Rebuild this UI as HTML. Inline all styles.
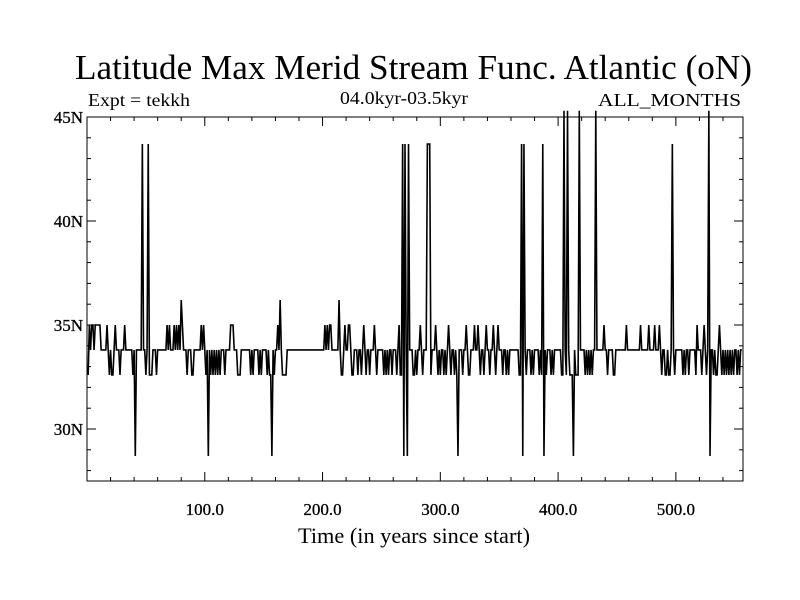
<!DOCTYPE html>
<html><head><meta charset="utf-8"><style>body{margin:0;background:#fff}svg{display:block}text{font-family:"Liberation Serif",serif;fill:#000}</style></head>
<body>
<svg id="chart" width="800" height="600" xmlns="http://www.w3.org/2000/svg">
<text x="75" y="79" font-size="35" textLength="677" lengthAdjust="spacingAndGlyphs">Latitude Max Merid Stream Func. Atlantic (oN)</text>
<text x="88" y="106" font-size="18" textLength="102" lengthAdjust="spacingAndGlyphs">Expt = tekkh</text>
<text x="340" y="104" font-size="18" textLength="128" lengthAdjust="spacingAndGlyphs">04.0kyr-03.5kyr</text>
<text x="598" y="106" font-size="18" textLength="143" lengthAdjust="spacingAndGlyphs">ALL_MONTHS</text>
<rect x="87" y="117" width="656" height="364" fill="none" stroke="#000" stroke-width="1"/>
<g id="ticks"></g>
<path id="line" fill="none" stroke="#000" stroke-width="1.6"/>
<text x="298" y="543" font-size="22" textLength="232" lengthAdjust="spacingAndGlyphs">Time (in years since start)</text>
</svg>
<script>
const levels = {a:28.7,b:32.6,c:33.8,d:35.0,e:36.2,f:43.7,g:47.0};
const codes = "bdcddcdddd"+"dcccccdcbc"+"bbcdcccbcc"+"cdccccccbc"+"acccccfccb"+"cfbbbcccbc"+"cccccccdcd"+"cccdcdcdce"+"dcccbcccbb"+"ccccccdcdc"+
"bcacbcbcbc"+"bcbcccbccc"+"cdddcccbbb"+"ccccccccbc"+"bccccbcbcc"+"ccbcbbacbc"+"cdcecbbbbc"+"cccccccccc"+"cccccccccc"+"cccccccccc"+
"cdcdcddccc"+"cccecbbcdc"+"cddcbbcccb"+"ccbcdcbccb"+"cccdcbcccc"+"cbcbcbccbc"+"ccbcdbbfaf"+"cafcccbbcb"+"ccdcbcccff"+"fbcccdcbcb"+
"ccbcbcdcbc"+"cbcbacccbc"+"cdcbbcccdc"+"cdcbccbcdc"+"cbccdcbcdc"+"ccbccbcbcc"+"ccccccbbfa"+"fcbcccbcbc"+"cccbcbfacb"+"cccbcbcccc"+
"ccbbgcbgcb"+"bbacbbbgcc"+"ccbcbcbcbc"+"cgccccccdc"+"cbccccbbcc"+"cccccccdcc"+"cccccccccd"+"ccccccdccc"+"cdcccdcbcc"+"bbcbbcfcbc"+
"cccccbcbcc"+"bcccccbdcc"+"cbcdcbcgac"+"cbcbbcdcbc"+"bcbcbcbcbc"+"cbcbcc";
const series = codes.split("").map(c => levels[c]);
const yTicks = [30,35,40,45];
const yTickLabels = ["30N","35N","40N","45N"];
const xTicks = [100,200,300,400,500];
const xTickLabels = ["100.0","200.0","300.0","400.0","500.0"];
const X0=87,X1=743,Y0=117,Y1=481,xmin=0,xmax=557,ymin=27.5,ymax=45;
const sx=v=>X0+(v-xmin)/(xmax-xmin)*(X1-X0);
const sy=v=>{v=Math.min(v,ymax+0.3);return Y1-(v-ymin)/(ymax-ymin)*(Y1-Y0);};
const ns="http://www.w3.org/2000/svg",g=document.getElementById("ticks");
function ln(x1,y1,x2,y2,name){const l=document.createElementNS(ns,"line");
l.setAttribute("x1",x1);l.setAttribute("y1",y1);l.setAttribute("x2",x2);l.setAttribute("y2",y2);l.setAttribute("stroke","#000");


g.appendChild(l);}
function tx(x,y,s,anchor,name){const t=document.createElementNS(ns,"text");t.setAttribute("x",x);t.setAttribute("y",y);t.setAttribute("font-size","17");t.setAttribute("text-anchor",anchor);t.setAttribute("stroke","#000");t.setAttribute("stroke-width","0.3");t.textContent=s;


g.appendChild(t);}
for(let v=28;v<=45;v++){const y=sy(v),m=(v%5==0)?9:4;ln(X0,y,X0+m,y,"y-tick");ln(X1,y,X1-m,y,"y-tick");}
yTicks.forEach((v,i)=>tx(X0-4,sy(v)+6,yTickLabels[i],"end","y-tick-label"));
for(let v=20;v<=xmax;v+=20){const x=sx(v),m=(v%100==0)?9:4;ln(x,Y1,x,Y1-m,"x-tick");ln(x,Y0,x,Y0+m,"x-tick");}
xTicks.forEach((v,i)=>tx(sx(v),Y1+34,xTickLabels[i],"middle","x-tick-label"));
document.getElementById("line").setAttribute("d",series.map((v,i)=>(i?"L":"M")+sx(i+1).toFixed(2)+","+sy(v).toFixed(2)).join(""));
</script>
</body></html>
